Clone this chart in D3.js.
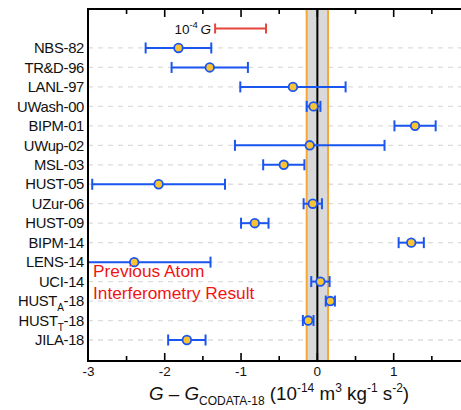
<!DOCTYPE html>
<html>
<head>
<meta charset="utf-8">
<script src="https://cdn.jsdelivr.net/npm/d3@7"></script>
<style>
  html, body { margin: 0; padding: 0; background: #fff; }
  svg { display: block; }
  text { font-family: "Liberation Sans", Arial, Helvetica, sans-serif; }
</style>
</head>
<body>
<svg id="chart" width="461" height="410"></svg>
<script>
// Measurements of Newton's constant relative to CODATA-18 (units of 1e-14 m^3 kg^-1 s^-2)
const experiments = ["NBS-82", "TR&D-96", "LANL-97", "UWash-00", "BIPM-01", "UWup-02", "MSL-03",
  "HUST-05", "UZur-06", "HUST-09", "BIPM-14", "LENS-14", "UCI-14", "HUST_A-18", "HUST_T-18", "JILA-18"];
const deltaG = [-1.82, -1.41, -0.32, -0.05, 1.28, -0.10, -0.44, -2.08, -0.06, -0.82, 1.23, -2.40, 0.04, 0.17, -0.12, -1.71];
const sigma = [0.43, 0.50, 0.69, 0.09, 0.27, 0.98, 0.27, 0.87, 0.12, 0.18, 0.165, 1.00, 0.12, 0.06, 0.07, 0.245];

// CODATA-18 uncertainty band and a 1e-4 G reference length
const codataSigma = 0.14;
const scaleBarStart = -1.34;
const scaleBarLength = 0.6674;

const xTicksMajor = [-3, -2, -1, 0, 1, 2];
const xTicksMinor = [-2.5, -1.5, -0.5, 0.5, 1.5];
const xTickLabels = [-3, -2, -1, 0, 1];

const svg = d3.select("#chart");
const plot = { left: 88, right: 470, top: 9, bottom: 361 };

const x = d3.scaleLinear().domain([-3, 2]).range([plot.left + 0.4, plot.right]);
const rows = ["__scale", ...experiments];
const y = d3.scalePoint().domain(rows).range([28.5, 340]);

svg.append("defs").append("clipPath").attr("id", "plotClip")
  .append("rect")
  .attr("x", plot.left).attr("y", plot.top)
  .attr("width", plot.right - plot.left).attr("height", plot.bottom - plot.top);

const blue = "#1a55f0";
const gold = "#f9c433";

// dashed row guides
svg.append("g").selectAll("line").data(experiments).join("line")
  .attr("x1", plot.left).attr("x2", plot.right)
  .attr("y1", d => y(d)).attr("y2", d => y(d))
  .attr("stroke", "#dcdcdc").attr("stroke-width", 1.3)
  .attr("stroke-dasharray", "5,5");

// CODATA band
svg.append("rect")
  .attr("x", x(-codataSigma)).attr("y", plot.top)
  .attr("width", x(codataSigma) - x(-codataSigma)).attr("height", plot.bottom - plot.top)
  .attr("fill", "#d9d9d9");
svg.append("g").selectAll("line").data([-codataSigma, codataSigma]).join("line")
  .attr("x1", d => x(d)).attr("x2", d => x(d))
  .attr("y1", plot.top).attr("y2", plot.bottom)
  .attr("stroke", "#f5a834").attr("stroke-width", 2);
svg.append("line")
  .attr("x1", x(0)).attr("x2", x(0))
  .attr("y1", plot.top).attr("y2", plot.bottom)
  .attr("stroke", "#000").attr("stroke-width", 2);

// error bars
const data = experiments.map((name, i) => ({ name, v: deltaG[i], s: sigma[i] }));
const bars = svg.append("g").attr("clip-path", "url(#plotClip)");
const capH = 5.5;
const eb = bars.selectAll("g").data(data).join("g");
eb.append("line")
  .attr("x1", d => x(d.v - d.s)).attr("x2", d => x(d.v + d.s))
  .attr("y1", d => y(d.name)).attr("y2", d => y(d.name))
  .attr("stroke", blue).attr("stroke-width", 2);
eb.append("line")
  .attr("x1", d => x(d.v - d.s)).attr("x2", d => x(d.v - d.s))
  .attr("y1", d => y(d.name) - capH).attr("y2", d => y(d.name) + capH)
  .attr("stroke", blue).attr("stroke-width", 2);
eb.append("line")
  .attr("x1", d => x(d.v + d.s)).attr("x2", d => x(d.v + d.s))
  .attr("y1", d => y(d.name) - capH).attr("y2", d => y(d.name) + capH)
  .attr("stroke", blue).attr("stroke-width", 2);
eb.append("circle")
  .attr("cx", d => x(d.v)).attr("cy", d => y(d.name))
  .attr("r", 4.3)
  .attr("fill", gold).attr("stroke", blue).attr("stroke-width", 1.8);

// 1e-4 G scale bar
const red = "#e8453c";
const sy = y("__scale");
const sx0 = x(scaleBarStart), sx1 = x(scaleBarStart + scaleBarLength);
svg.append("line").attr("x1", sx0).attr("x2", sx1).attr("y1", sy).attr("y2", sy)
  .attr("stroke", red).attr("stroke-width", 2);
[sx0, sx1].forEach(px => svg.append("line")
  .attr("x1", px).attr("x2", px).attr("y1", sy - 5).attr("y2", sy + 5)
  .attr("stroke", red).attr("stroke-width", 2));
const sl = svg.append("text").attr("x", sx0 - 4).attr("y", sy + 5)
  .attr("text-anchor", "end").attr("font-size", 13.5).attr("fill", "#111");
sl.append("tspan").text("10");
sl.append("tspan").attr("font-size", 9.5).attr("dy", -6).text("-4");
sl.append("tspan").attr("dy", 6).attr("font-style", "italic").text("\u2009G");

// frame and inward ticks
const frame = svg.append("g").attr("stroke", "#000");
frame.append("line").attr("x1", plot.left).attr("x2", plot.right + 10)
  .attr("y1", plot.top).attr("y2", plot.top).attr("stroke-width", 2);
frame.append("line").attr("x1", plot.left).attr("x2", plot.right + 10)
  .attr("y1", plot.bottom).attr("y2", plot.bottom).attr("stroke-width", 2);
frame.append("line").attr("x1", plot.left).attr("x2", plot.left)
  .attr("y1", plot.top - 1).attr("y2", plot.bottom + 1).attr("stroke-width", 2);

const tickLen = major => major ? 8 : 5;
[[xTicksMajor, true], [xTicksMinor, false]].forEach(([ticks, major]) => {
  ticks.filter(t => t > -3).forEach(t => {
    frame.append("line").attr("x1", x(t)).attr("x2", x(t))
      .attr("y1", plot.top).attr("y2", plot.top + tickLen(major)).attr("stroke-width", 1.6);
    frame.append("line").attr("x1", x(t)).attr("x2", x(t))
      .attr("y1", plot.bottom).attr("y2", plot.bottom - tickLen(major)).attr("stroke-width", 1.6);
  });
});

svg.append("g").selectAll("text").data(xTickLabels).join("text")
  .attr("x", d => x(d)).attr("y", 376)
  .attr("text-anchor", "middle").attr("font-size", 13.5).attr("fill", "#111")
  .text(d => String(d));

// row labels (with subscripts for the HUST 2018 pair)
const lab = svg.append("g").selectAll("text").data(experiments).join("text")
  .attr("x", 84).attr("y", d => y(d) + 5.2)
  .attr("text-anchor", "end").attr("font-size", 14.8).attr("fill", "#111")
  .attr("letter-spacing", -0.3);
lab.each(function(d) {
  const t = d3.select(this);
  const m = d.match(/^(.*)_(.)(.*)$/);
  if (m) {
    t.append("tspan").text(m[1]);
    t.append("tspan").attr("font-size", 10).attr("dy", 5).text(m[2]);
    t.append("tspan").attr("dy", -5).text(m[3]);
  } else {
    t.text(d);
  }
});

// annotation
const note = svg.append("g").attr("font-family", "Lato, 'Open Sans', sans-serif")
  .attr("font-size", 17.3).attr("fill", "#f01515");
note.append("text").attr("x", 93).attr("y", 276.5).text("Previous Atom");
note.append("text").attr("x", 93).attr("y", 298.5).text("Interferometry Result");

// axis title
const title = svg.append("text").attr("x", 279).attr("y", 400)
  .attr("text-anchor", "middle").attr("font-size", 18.8).attr("fill", "#111");
title.append("tspan").attr("font-style", "italic").text("G");
title.append("tspan").text(" \u2013 ");
title.append("tspan").attr("font-style", "italic").text("G");
title.append("tspan").attr("font-size", 12).attr("dy", 5).text("CODATA-18");
title.append("tspan").attr("dy", -5).text(" (10");
title.append("tspan").attr("font-size", 12).attr("dy", -8).text("-14");
title.append("tspan").attr("dy", 8).text(" m");
title.append("tspan").attr("font-size", 12).attr("dy", -8).text("3");
title.append("tspan").attr("dy", 8).text(" kg");
title.append("tspan").attr("font-size", 12).attr("dy", -8).text("-1");
title.append("tspan").attr("dy", 8).text(" s");
title.append("tspan").attr("font-size", 12).attr("dy", -8).text("-2");
title.append("tspan").attr("dy", 8).text(")");
</script>
</body>
</html>
